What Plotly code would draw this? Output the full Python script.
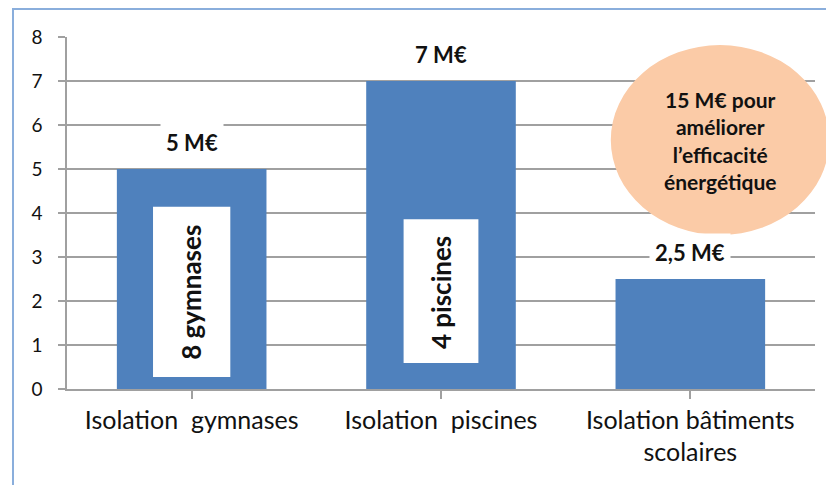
import plotly.graph_objects as go

# ---- data ----
categories = ["Isolation\u00a0 gymnases", "Isolation\u00a0 piscines", "Isolation bâtiments<br>scolaires"]
values = [5, 7, 2.5]
value_labels = ["5 M€", "7 M€", "2,5 M€"]
inner_labels = ["8 gymnases", "4 piscines", None]
bubble_text = "15 M€ pour<br>améliorer<br>l’efficacité<br>énergétique"
y_ticks = [0, 1, 2, 3, 4, 5, 6, 7, 8]

# ---- style ----
BAR = "#4F81BD"
GRID = "#A0A0A0"
FONT = "Lato"
TXT = "#111111"

# inner white boxes: (x half-width in category units, y bottom, y top, text y)
inner_boxes = [(0.155, 0.27, 4.14, 2.2), (0.15, 0.59, 3.86, 2.18), None]

fig = go.Figure()
fig.add_trace(go.Bar(
    x=list(range(len(categories))), y=values, width=0.6,
    marker=dict(color=BAR, line=dict(width=0)),
    hoverinfo="skip",
))

shapes = []
annotations = []
for i, v in enumerate(values):
    annotations.append(dict(
        x=i, y=v, xref="x", yref="y", text=f"<b>{value_labels[i]}</b>",
        showarrow=False, yshift=27, xanchor="center", yanchor="middle",
        font=dict(family=FONT, size=22, color=TXT),
        bgcolor="white", borderpad=5,
    ))
    box = inner_boxes[i]
    if box and inner_labels[i]:
        hw, y0, y1, ty = box
        shapes.append(dict(type="rect", xref="x", yref="y",
                           x0=i - hw, x1=i + hw, y0=y0, y1=y1,
                           fillcolor="white", line=dict(width=0), layer="above"))
        annotations.append(dict(
            x=i, y=ty, xref="x", yref="y", text=f"<b>{inner_labels[i]}</b>",
            showarrow=False, textangle=-90, xanchor="center", yanchor="middle",
            font=dict(family=FONT, size=26, color=TXT),
        ))

# bubble
shapes.append(dict(type="circle", xref="paper", yref="paper",
                   x0=0.727, x1=1.019, y0=0.4375, y1=0.977,
                   fillcolor="#FBCBA7", line=dict(width=0), layer="above"))
annotations.append(dict(x=0.873, y=0.707, xref="paper", yref="paper",
                        xanchor="center", yanchor="middle",
                        text=f"<b>{bubble_text}</b>", showarrow=False,
                        font=dict(family=FONT, size=21, color=TXT)))

# outer border
shapes.append(dict(type="rect", xref="paper", yref="paper",
                   x0=-0.0722, x1=1.05, y0=-0.4, y1=1.0795,
                   line=dict(color="#8AAEDC", width=2), fillcolor="rgba(0,0,0,0)"))

# page body has an 8px margin, so the figure is 8px smaller and margins shifted
fig.update_layout(
    width=826, height=477,
    margin=dict(l=59, r=19, t=29, b=96),
    paper_bgcolor="white", plot_bgcolor="white",
    showlegend=False,
    shapes=shapes, annotations=annotations,
    xaxis=dict(
        tickmode="array", tickvals=list(range(len(categories))), ticktext=categories,
        range=[-0.5, 2.5], showgrid=False, showline=True, linecolor=GRID, linewidth=1.5,
        ticks="outside", ticklen=8, tickcolor=GRID, tickwidth=1.5,
        tickfont=dict(family=FONT, size=25, color=TXT), zeroline=False,
    ),
    yaxis=dict(
        range=[0, 8], tickvals=y_ticks, showgrid=True, gridcolor=GRID, gridwidth=1.5,
        showline=True, linecolor=GRID, linewidth=1.5, zeroline=False,
        ticks="outside", ticklen=7, tickcolor=GRID, tickwidth=1.5,
        tickfont=dict(family=FONT, size=19, color=TXT), ticklabelstandoff=12,
    ),
)

fig.write_html("out.html")
